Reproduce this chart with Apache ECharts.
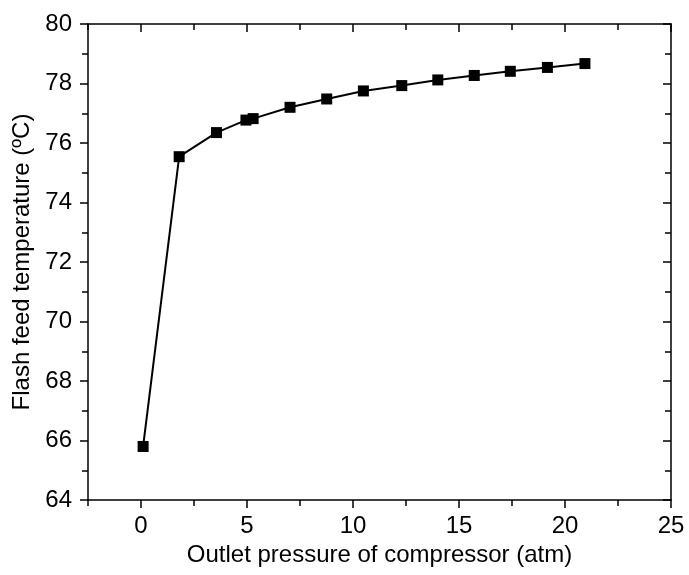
<!DOCTYPE html>
<html>
<head>
<meta charset="utf-8">
<script src="https://cdn.jsdelivr.net/npm/echarts@6/dist/echarts.min.js"></script>
<style>
  html, body { margin: 0; padding: 0; background: #fff; }
  #chart { width: 689px; height: 575px; }
</style>
</head>
<body>
<div id="chart"></div>
<script>
// Outlet pressure (atm) and the matching flash feed temperature (°C)
var pressure = [0.1, 1.8, 3.56, 4.95, 5.29, 7.03, 8.76, 10.49, 12.3, 14.0, 15.72, 17.42, 19.17, 20.94];
var temperature = [65.8, 75.54, 76.35, 76.77, 76.82, 77.2, 77.48, 77.75, 77.93, 78.12, 78.27, 78.41, 78.54, 78.67];

// Labelled ticks on the pressure axis
var xTicks = [0, 5, 10, 15, 20, 25];

var xTitle = 'Outlet pressure of compressor (atm)';
var yTitle = 'Flash feed temperature (ºC)';

var font = 'Liberation Sans, Arial, sans-serif';
var ink = '#000';

var points = pressure.map(function (p, i) { return [p, temperature[i]]; });

var lineStyle = { color: ink, width: 1.5 };
var axisLine = { show: true, onZero: false, lineStyle: lineStyle };

// Pressure axis: major ticks every 5 with labels, small ticks every 2.5
function xMajor(position, inside, withLabels) {
  return {
    type: 'value', position: position, min: -2.5, max: 25, interval: 2.5,
    axisLine: axisLine,
    axisTick: { show: true, inside: inside, length: 8, customValues: xTicks, lineStyle: lineStyle },
    axisLabel: withLabels
      ? { show: true, margin: 14, fontSize: 24, color: ink, fontFamily: font, customValues: xTicks }
      : { show: false },
    splitLine: { show: false }
  };
}
function xMinor(position, inside) {
  return {
    type: 'value', position: position, min: -2.5, max: 25, interval: 2.5,
    axisLine: { show: false },
    axisTick: { show: true, inside: inside, length: 6, lineStyle: lineStyle },
    axisLabel: { show: false },
    splitLine: { show: false }
  };
}

var bottomAxis = xMajor('bottom', false, true);
bottomAxis.name = xTitle;
bottomAxis.nameLocation = 'middle';
bottomAxis.nameGap = 43;
bottomAxis.nameTextStyle = { fontSize: 24, color: ink, fontFamily: font };

var chart = echarts.init(document.getElementById('chart'));
chart.setOption({
  animation: false,
  backgroundColor: '#fff',
  grid: { left: 88, right: 18, top: 24, height: 476 },
  xAxis: [
    bottomAxis,
    xMajor('top', true, false),
    xMinor('bottom', false),
    xMinor('top', true)
  ],
  yAxis: [{
    type: 'value', position: 'left', min: 64, max: 80, interval: 2,
    axisLine: axisLine,
    axisTick: { show: true, inside: false, length: 8, lineStyle: lineStyle },
    minorTick: { show: true, splitNumber: 2, length: 6, lineStyle: lineStyle },
    axisLabel: { show: true, margin: 16, fontSize: 24, color: ink, fontFamily: font },
    splitLine: { show: false },
    name: yTitle, nameLocation: 'middle', nameGap: 48, nameRotate: 90,
    nameTextStyle: { fontSize: 24, color: ink, fontFamily: font }
  }, {
    type: 'value', position: 'right', min: 64, max: 80, interval: 2,
    axisLine: axisLine,
    axisTick: { show: true, inside: true, length: 8, lineStyle: lineStyle },
    minorTick: { show: true, splitNumber: 2, length: 6, lineStyle: lineStyle },
    axisLabel: { show: false }, splitLine: { show: false }
  }],
  series: [{
    type: 'line',
    data: points,
    xAxisIndex: 0, yAxisIndex: 0,
    symbol: 'rect', symbolSize: 11,
    lineStyle: { color: ink, width: 2 },
    itemStyle: { color: ink }
  }]
});
</script>
</body>
</html>
